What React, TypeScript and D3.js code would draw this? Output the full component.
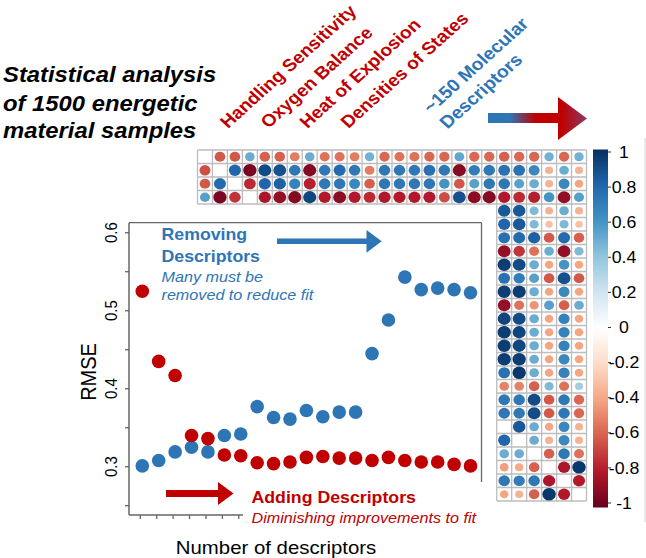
import React from 'react';
import * as d3 from 'd3';

// ---------- data ----------
const descriptorCount = [1, 2, 3, 4, 5, 6, 7, 8, 9, 10, 11, 12, 13, 14, 15, 16, 17, 18, 19, 20, 21];
const addingRMSE = [0.525, 0.435, 0.417, 0.340, 0.336, 0.315, 0.314, 0.305, 0.304, 0.306, 0.312, 0.313, 0.311, 0.311, 0.308, 0.312, 0.308, 0.306, 0.306, 0.303, 0.301];
const removingRMSE = [0.301, 0.308, 0.319, 0.325, 0.319, 0.340, 0.342, 0.377, 0.363, 0.361, 0.372, 0.364, 0.370, 0.370, 0.445, 0.488, 0.543, 0.527, 0.529, 0.527, 0.523];
const yTicks = [0.25, 0.3, 0.35, 0.4, 0.45, 0.5, 0.55, 0.6];
const yTickLabels = [0.3, 0.4, 0.5, 0.6];
const xTicks = [1, 2, 3, 4, 5, 6, 7];

// correlation matrix (26 x 26): first 4 rows (all columns), and the last 6 columns of rows 5..26
const topRows: (number | null)[][] = [
  [null, -0.62, -0.62, 0.5, -0.6, -0.6, -0.52, 0.5, -0.55, -0.55, -0.52, 0.48, -0.58, -0.55, -0.55, -0.58, -0.58, 0.52, -0.58, -0.58, -0.6, -0.58, -0.58, 0.48, -0.58, 0.48],
  [-0.65, null, 0.8, -0.95, 0.9, 0.88, 0.72, -0.92, 0.72, 0.78, 0.72, -0.52, 0.72, 0.72, 0.72, 0.75, 0.72, -0.92, 0.7, 0.72, 0.75, 0.75, 0.65, -0.35, 0.5, -0.35],
  [-0.62, 0.78, null, -0.75, 0.8, 0.82, 0.68, -0.78, 0.72, 0.72, 0.65, -0.6, 0.72, 0.72, 0.72, 0.72, 0.6, -0.62, 0.55, 0.72, 0.72, 0.55, 0.5, -0.35, 0.65, -0.4],
  [0.55, -0.95, -0.72, null, -0.82, -0.88, -0.92, 0.92, -0.8, -0.9, -0.8, -0.75, -0.8, -0.8, -0.8, -0.8, -0.65, 0.88, -0.9, -0.92, -0.8, -0.75, -0.78, 0.6, -0.88, 0.55],
];
const rightRows: (number | null)[][] = [
  [0.85, 0.85, 0.45, -0.35, 0.5, -0.35],
  [0.8, 0.85, 0.45, -0.3, 0.45, -0.3],
  [0.75, 0.78, 0.82, -0.62, 0.78, -0.6],
  [-0.88, -0.72, -0.55, 0.5, -0.88, 0.45],
  [0.95, 0.9, 0.5, -0.4, 0.6, -0.4],
  [0.75, 0.7, 0.55, -0.62, 0.88, -0.62],
  [0.95, 0.95, 0.5, -0.4, 0.65, -0.4],
  [-0.88, -0.55, -0.45, 0.55, -0.6, 0.5],
  [0.92, 0.9, 0.5, -0.4, 0.68, -0.4],
  [0.95, 0.92, 0.5, -0.4, 0.68, -0.4],
  [0.95, 0.92, 0.5, -0.4, 0.68, -0.4],
  [0.95, 0.95, 0.5, -0.4, 0.65, -0.4],
  [0.75, 0.97, 0.5, -0.4, 0.68, -0.4],
  [-0.5, -0.5, -0.6, 0.45, -0.55, 0.35],
  [0.72, 0.72, 0.9, -0.62, 0.72, -0.58],
  [0.72, 0.72, 0.9, -0.62, 0.72, -0.58],
  [null, 0.85, 0.5, -0.4, 0.65, -0.35],
  [0.8, null, 0.5, -0.35, 0.65, -0.35],
  [0.5, 0.5, null, -0.6, 0.72, -0.55],
  [-0.42, -0.38, -0.6, null, -0.82, 0.97],
  [0.72, 0.7, 0.72, -0.82, null, -0.8],
  [-0.4, -0.35, -0.6, 0.97, -0.8, null],
];
const colorbarTicks = [1, 0.8, 0.6, 0.4, 0.2, 0, -0.2, -0.4, -0.6, -0.8, -1];
const corrStops = [-1, -0.8, -0.6, -0.4, -0.2, 0, 0.2, 0.4, 0.6, 0.8, 1];
const corrColors = ['#67001F', '#B2182B', '#D6604D', '#F4A582', '#FDDBC7', '#FFFFFF', '#D1E5F0', '#92C5DE', '#4393C3', '#2166AC', '#053061'];
const propertyLabels = ['Handling Sensitivity', 'Oxygen Balance', 'Heat of Explosion', 'Densities of States'];
const descriptorLabels = ['~150 Molecular', 'Descriptors'];
const titleLines = ['Statistical analysis', 'of 1500 energetic', 'material samples'];

// ---------- style ----------
const FONT = '"Liberation Sans", Arial, Helvetica, sans-serif';
const RED = '#c00000';
const BLUE = '#2e75b6';
const AXIS = '#666';
const SX = 1.108; // horizontal stretch of the picture

const N = 26;
const mx = d3.scaleBand<number>().domain(d3.range(N)).range([197.5, 586.5]);
const my = d3.scaleBand<number>().domain(d3.range(N)).range([150, 501]);
const corrColor = d3.scaleLinear<string>().domain(corrStops).range(corrColors);
const cb = d3.scaleLinear().domain([1, -1]).range([152, 503]);

const px = d3.scaleLinear().domain([1, 21]).range([142.3, 470.5]);
const py = d3.scaleLinear().domain([0.25, 0.6]).range([505.7, 232.7]);

type TProps = {
  x: number; y: number; rot?: number; size: number; weight?: string; italic?: boolean;
  fill?: string; anchor?: string; children: React.ReactNode;
};
const T = ({ x, y, rot = 0, size, weight = 'normal', italic = false, fill = '#000', anchor = 'start', children }: TProps) => (
  <text
    transform={`translate(${x},${y}) scale(${SX},1) rotate(${rot})`}
    fontFamily={FONT}
    fontSize={size}
    fontWeight={weight}
    fontStyle={italic ? 'italic' : 'normal'}
    fill={fill}
    textAnchor={anchor}
  >
    {children}
  </text>
);

export default function App() {
  const cells: { r: number; c: number; v: number }[] = [];
  topRows.forEach((row, r) => row.forEach((v, c) => { if (v !== null) cells.push({ r, c, v }); }));
  rightRows.forEach((row, i) => row.forEach((v, j) => { if (v !== null) cells.push({ r: i + 4, c: j + 20, v }); }));

  const bw = mx.bandwidth();
  const bh = my.bandwidth();
  const x0 = mx.range()[0], x1 = mx.range()[1];
  const y1 = my.range()[1];
  const stripX = mx(20)!;
  const stripY = my(4)!;
  const maxR = bh * 0.475;

  const vLines = d3.range(N + 1).map((c) => {
    const x = c < N ? mx(c)! : x1;
    return { x, ya: 150, yb: c >= 20 ? y1 : stripY };
  });
  const hLines = d3.range(N + 1).map((r) => {
    const y = r < N ? my(r)! : y1;
    return { y, xa: r <= 4 ? x0 : stripX, xb: x1 };
  });

  const cbTop = 149.5, cbBot = 507.5;

  return (
    <svg width={646} height={558} style={{ position: 'absolute', left: 0, top: 0, background: '#fff' }}>
      <defs>
        <linearGradient id="cbGrad" x1="0" y1={cbTop} x2="0" y2={cbBot} gradientUnits="userSpaceOnUse">
          {corrStops.slice().reverse().map((v, i) => (
            <stop key={i} offset={`${(i / (corrStops.length - 1)) * 100}%`} stopColor={corrColor(v)} />
          ))}
        </linearGradient>
        <linearGradient id="arrowGrad" x1="488" y1="0" x2="587" y2="0" gradientUnits="userSpaceOnUse">
          <stop offset="0%" stopColor={BLUE} />
          <stop offset="22%" stopColor={BLUE} />
          <stop offset="48%" stopColor={RED} />
          <stop offset="74%" stopColor={RED} />
          <stop offset="100%" stopColor="#8a3a66" />
        </linearGradient>
      </defs>
      <rect x={0} y={0} width={646} height={558} fill="#fff" />

      {/* title */}
      {titleLines.map((t, i) => (
        <T key={t} x={3} y={[81.7, 111, 137.5][i]} size={21.5} weight="bold" italic>{t}</T>
      ))}

      {/* rotated header labels */}
      {propertyLabels.map((t, i) => (
        <T key={t} x={[228, 268.5, 307.5, 348.5][i]} y={129} rot={-45} size={17.3} weight="bold" fill={RED}>{t}</T>
      ))}
      {descriptorLabels.map((t, i) => (
        <T key={t} x={[431, 447.5][i]} y={[114, 129.5][i]} rot={-45} size={17.5} weight="bold" fill={BLUE}>{t}</T>
      ))}

      {/* gradient arrow */}
      <rect x={488} y={113} width={72} height={10} fill="url(#arrowGrad)" />
      <polygon points="558,97 587,118.5 558,140" fill="url(#arrowGrad)" />

      {/* correlation matrix */}
      {vLines.map((l, i) => (
        <line key={`v${i}`} x1={l.x} x2={l.x} y1={l.ya} y2={l.yb} stroke="#bdbdbd" strokeWidth={1.3} />
      ))}
      {hLines.map((l, i) => (
        <line key={`h${i}`} x1={l.xa} x2={l.xb} y1={l.y} y2={l.y} stroke="#bdbdbd" strokeWidth={1.3} />
      ))}
      {cells.map((d, i) => {
        const r = Math.sqrt(Math.abs(d.v)) * maxR;
        return (
          <ellipse key={i} cx={mx(d.c)! + bw / 2} cy={my(d.r)! + bh / 2} rx={r * 1.06} ry={r} fill={corrColor(d.v)} />
        );
      })}

      {/* colorbar */}
      <rect x={593} y={cbTop} width={15} height={cbBot - cbTop} fill="url(#cbGrad)" />
      {colorbarTicks.map((v) => (
        <g key={v}>
          <line x1={608} x2={611} y1={cb(v)} y2={cb(v)} stroke="#333" strokeWidth={1} />
          <T x={624} y={cb(v) + 5.6} size={16} anchor="middle">{String(v)}</T>
        </g>
      ))}
      <line x1={645} x2={645} y1={138} y2={522} stroke="#d8d8d8" strokeWidth={1} />

      {/* RMSE plot frame */}
      <line x1={129} x2={129} y1={222.7} y2={515} stroke={AXIS} strokeWidth={1.5} />
      <line x1={129} x2={243} y1={515} y2={515} stroke={AXIS} strokeWidth={1.5} />
      <line x1={129} x2={481.5} y1={222.7} y2={222.7} stroke={AXIS} strokeWidth={1.3} />
      <line x1={481.5} x2={481.5} y1={222.7} y2={482} stroke={AXIS} strokeWidth={1.3} />
      {yTicks.map((v) => (
        <line key={v} x1={125} x2={129} y1={py(v)} y2={py(v)} stroke={AXIS} strokeWidth={1.3} />
      ))}
      {xTicks.map((v) => (
        <line key={v} x1={px(v) - 2} x2={px(v) - 2} y1={515} y2={519} stroke={AXIS} strokeWidth={1.3} />
      ))}
      {yTickLabels.map((v) => (
        <T key={v} x={117} y={py(v)} rot={-90} size={15} anchor="middle">{v.toFixed(1)}</T>
      ))}
      <T x={96} y={372} rot={-90} size={20} anchor="middle">RMSE</T>
      <T x={276} y={554} size={18.4} anchor="middle">Number of descriptors</T>

      {/* points */}
      {removingRMSE.map((v, i) => (
        <circle key={`b${i}`} cx={px(descriptorCount[i])} cy={py(v)} r={6.8} fill={BLUE} />
      ))}
      {addingRMSE.map((v, i) => (
        <circle key={`r${i}`} cx={px(descriptorCount[i])} cy={py(v)} r={6.8} fill={RED} />
      ))}

      {/* annotations */}
      <T x={161.5} y={240} size={16} weight="bold" fill={BLUE}>Removing</T>
      <T x={161.5} y={261.5} size={16} weight="bold" fill={BLUE}>Descriptors</T>
      <T x={161.5} y={281.5} size={14.6} italic fill={BLUE}>Many must be</T>
      <T x={161.5} y={300} size={14.6} italic fill={BLUE}>removed to reduce fit</T>
      <rect x={277} y={238.5} width={91} height={5.5} fill={BLUE} />
      <polygon points="366.5,230 381.7,241.3 366.5,252.7" fill={BLUE} />

      <rect x={166} y={490} width={53} height={7} fill={RED} />
      <polygon points="218,482 233.5,493.5 218,505" fill={RED} />
      <T x={251.5} y={503.3} size={16} weight="bold" fill={RED}>Adding Descriptors</T>
      <T x={251.5} y={523.3} size={14.6} italic fill={RED}>Diminishing improvements to fit</T>
    </svg>
  );
}
